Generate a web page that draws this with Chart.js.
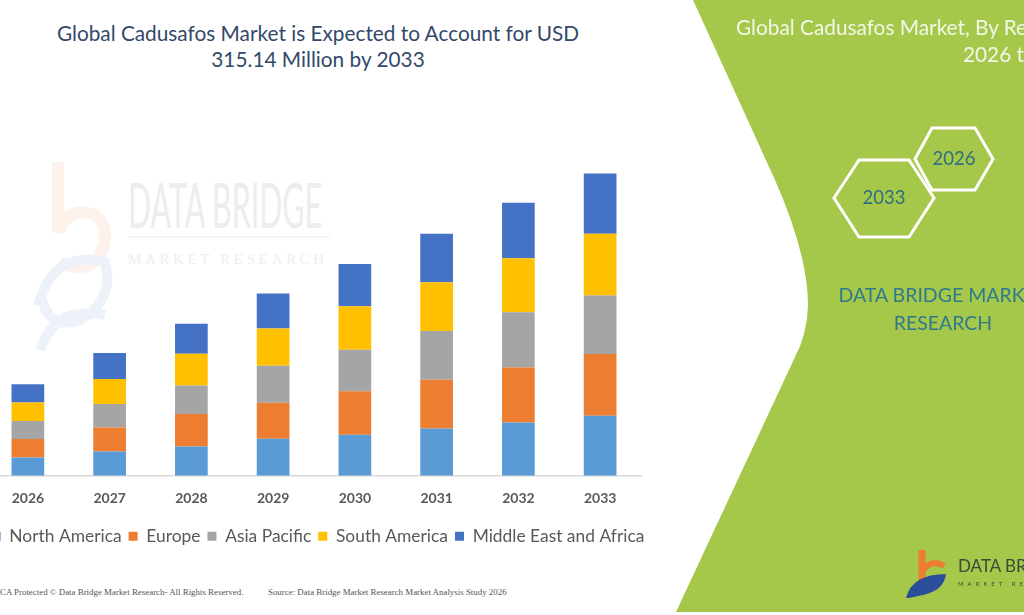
<!DOCTYPE html>
<html lang="en">
<head>
<meta charset="UTF-8">
<title>Global Cadusafos Market</title>
<script src="https://cdn.jsdelivr.net/npm/chart.js"></script>
<style>
  body { margin: 0; width: 1024px; height: 615px; overflow: hidden; background: #fff; font-family: Lato, "Open Sans", sans-serif; position: relative; }
  #bg, #panel { position: absolute; left: 0; top: 0; }
  #wrap { position: absolute; left: -42px; top: 0; width: 720px; height: 560px; }
  .title { position: absolute; left: 0; width: 636px; top: 20px; text-align: center; color: #34496a; font-size: 20.8px; line-height: 26px; }
</style>
</head>
<body>
<!-- faint watermark + footer -->
<svg id="bg" width="1024" height="615">
  <g opacity="0.09">
    <path d="M58,162 L58,232 Q70,205 95,215 Q112,228 100,255 Q85,275 60,262" fill="none" stroke="#ed7d31" stroke-width="12"/>
    <path d="M40,300 Q55,250 105,262 Q115,300 80,320 Q50,330 42,300 Z" fill="none" stroke="#4472c4" stroke-width="10"/>
    <path d="M40,350 Q55,305 105,315" fill="none" stroke="#4472c4" stroke-width="10"/>
  </g>
  <text x="128" y="228" fill="#ededed" font-family="Lato" font-size="62" textLength="194" lengthAdjust="spacingAndGlyphs">DATA BRIDGE</text>
  <line x1="128" y1="237" x2="330" y2="237" stroke="#f0f0f0" stroke-width="1.5"/>
  <text x="128" y="264" fill="#eeeeee" font-family="Liberation Serif" font-size="15" textLength="196" lengthAdjust="spacing">MARKET RESEARCH</text>
  <text x="0" y="595" fill="#555" font-family="Liberation Serif" font-size="8.9">CA Protected © Data Bridge Market Research- All Rights Reserved.</text>
  <text x="268" y="595" fill="#555" font-family="Liberation Serif" font-size="8.9">Source: Data Bridge Market Research Market Analysis Study 2026</text>
</svg>

<div class="title">Global Cadusafos Market is Expected to Account for USD<br>315.14 Million by 2033</div>

<div id="wrap"><canvas id="barChart" width="720" height="560"></canvas></div>

<!-- green side panel -->
<svg id="panel" width="1024" height="615">
  <path d="M693,0 L775,180 Q808,255 808,305 Q807,335 795,357 L676,612 L1024,612 L1024,0 Z" fill="#a5c74a"/>
  <text x="736" y="35" fill="#f3f7e8" font-family="Lato" font-size="20.8">Global Cadusafos Market, By Regions,</text>
  <text x="963" y="62" fill="#f3f7e8" font-family="Lato" font-size="20.8">2026 to 2033</text>
  <polygon points="834,198 859,160 909,160 934,198 909,237 859,237" fill="none" stroke="#fff" stroke-width="3"/>
  <polygon points="915,159 932,128 975,128 993,159 975,190 932,190" fill="none" stroke="#fff" stroke-width="3"/>
  <text x="884" y="204" text-anchor="middle" fill="#2e6f80" font-family="Lato" font-size="18.5">2033</text>
  <text x="954" y="165" text-anchor="middle" fill="#2e6f80" font-family="Lato" font-size="18.5">2026</text>
  <text x="943" y="302" text-anchor="middle" fill="#2f7a8c" font-family="Lato" font-size="19.5">DATA BRIDGE MARKET</text>
  <text x="943" y="330" text-anchor="middle" fill="#2f7a8c" font-family="Lato" font-size="19.5">RESEARCH</text>
  <path d="M922,550 L922,580" stroke="#ed7d31" stroke-width="7"/>
  <path d="M922,572 Q930,558 944,566" fill="none" stroke="#ed7d31" stroke-width="6"/>
  <path d="M906,598 Q912,574 946,574 Q944,592 918,596 Q910,598 906,598 Z" fill="#2c4e9a"/>
  <text x="958" y="572" fill="#3b4a3a" font-family="Lato" font-size="17">DATA BRIDGE</text>
  <text x="958" y="586" fill="#3b4a3a" font-family="Lato" font-size="6" letter-spacing="4">MARKET RESEARCH</text>
</svg>

<script>
const years = ["2026", "2027", "2028", "2029", "2030", "2031", "2032", "2033"];
const northAmerica = [19.1, 25.4, 30.6, 38.6, 42.8, 49.4, 55.6, 62.6];
const europe       = [19.2, 25.0, 33.8, 37.6, 45.2, 50.8, 57.4, 64.4];
const asiaPacific  = [18.8, 24.4, 29.8, 38.6, 43.5, 50.8, 57.4, 60.8];
const southAmerica = [19.2, 26.1, 33.1, 38.6, 45.2, 50.7, 56.4, 64.4];
const middleEast   = [19.1, 27.1, 31.3, 36.5, 44.1, 50.5, 57.8, 62.9];

const seriesNames  = ["North America", "Europe", "Asia Pacific", "South America", "Middle East and Africa"];
const seriesValues = [northAmerica, europe, asiaPacific, southAmerica, middleEast];
const seriesColors = ["#5b9bd5", "#ed7d31", "#a5a5a5", "#ffc000", "#4472c4"];

// invisible side axes only reserve room so the plot sits where the original does
const spacer = (w, pos) => ({
    position: pos,
    display: true,
    grid: { display: false },
    border: { display: false },
    ticks: { display: false },
    afterFit: (scale) => { scale.width = w; }
});

const ctx = document.getElementById("barChart").getContext("2d");
const barChart = new Chart(ctx, {
    type: "bar",
    data: {
        labels: years,
        datasets: seriesNames.map((name, i) => ({
            label: name,
            data: seriesValues[i],
            backgroundColor: seriesColors[i],
            categoryPercentage: 0.8,
            barPercentage: 0.5
        }))
    },
    options: {
        responsive: false,
        animation: false,
        layout: { padding: { left: 0, right: 0, top: 140, bottom: 5 } },
        scales: {
            x: {
                stacked: true,
                grid: { display: false, drawTicks: false },
                border: { display: true, color: "#d9d9d9", width: 1.5 },
                ticks: { color: "#595959", padding: 14, font: { family: "Lato", size: 14, weight: "bold" } }
            },
            y: Object.assign(spacer(29, "left"), { stacked: true, min: 0, max: 350 }),
            yRight: spacer(37, "right")
        },
        plugins: {
            legend: {
                position: "bottom",
                labels: { boxWidth: 9, boxHeight: 9, padding: 7, color: "#595959", font: { family: "Lato", size: 17.4 } }
            },
            tooltip: { enabled: false }
        }
    }
});
</script>
</body>
</html>
